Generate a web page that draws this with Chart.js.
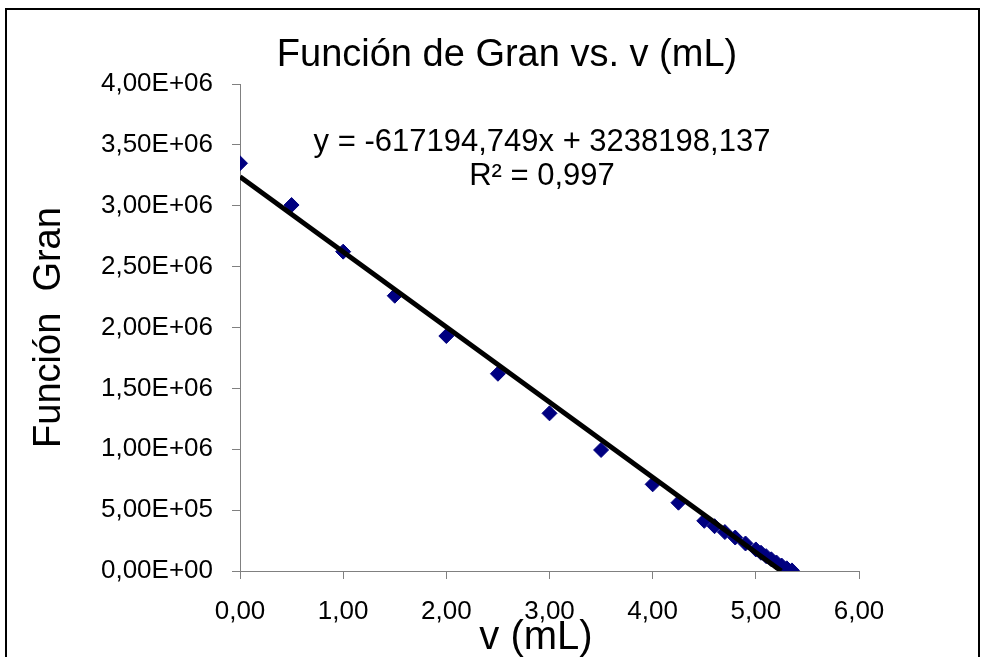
<!DOCTYPE html>
<html>
<head>
<meta charset="utf-8">
<script src="https://cdn.jsdelivr.net/npm/chart.js@4/dist/chart.umd.min.js"></script>
<style>
    html, body { margin: 0; padding: 0; background: #fff; }
    #wrap { position: relative; width: 984px; height: 657px; overflow: hidden; }
    #granChart { position: absolute; left: 0; top: 0; }
    #frame {
        position: absolute; left: 5px; top: 8px;
        width: 971px; height: 700px;
        border: 2px solid #000; pointer-events: none;
    }
</style>
</head>
<body>
<div id="wrap">
    <canvas id="granChart" width="984" height="657"></canvas>
    <div id="frame"></div>
</div>
<script>
    // Data
    const volumes = [0, 0.5, 1, 1.5, 2, 2.5, 3, 3.5, 4, 4.25, 4.5, 4.6, 4.7, 4.8, 4.9, 5.0,
                     5.05, 5.1, 5.15, 5.2, 5.25, 5.3, 5.35];
    const granValues = [3349000, 3006000, 2623000, 2261000, 1930000, 1620000, 1295000, 994000,
                        712000, 561000, 412000, 368000, 320000, 275000, 226000, 177000,
                        150000, 122000, 96000, 70000, 45000, 22000, 5000];

    // Trendline shown on the chart
    const slope = -617194.749;
    const intercept = 3238198.137;
    const rSquared = 0.997;

    const xTitle = 'v (mL)';
    const FONT = '"Liberation Sans", Arial, sans-serif';
    const AXIS_GRAY = '#808080';

    // Number formatting (Spanish decimal comma)
    function fmtSci(v) {
        const [m, e] = Number(v).toExponential(2).split('e');
        const n = parseInt(e, 10);
        return m.replace('.', ',') + 'E' + (n < 0 ? '-' : '+') + String(Math.abs(n)).padStart(2, '0');
    }
    function fmtDec(v, digits) {
        return Number(v).toFixed(digits).replace('.', ',');
    }

    const points = volumes.map((v, i) => ({ x: v, y: granValues[i] }));
    const trend = [
        { x: 0, y: intercept },
        { x: -intercept / slope, y: 0 }
    ];

    const eqText = 'y = ' + fmtDec(slope, 3) + 'x + ' + fmtDec(intercept, 3);
    const r2Text = 'R\u00B2 = ' + fmtDec(rSquared, 3);

    // Equation label and x axis title (Excel puts it a bit left of centre)
    const fitLabel = {
        id: 'fitLabel',
        afterDatasetsDraw(chart) {
            const { ctx, chartArea } = chart;
            ctx.save();
            ctx.fillStyle = '#000';
            ctx.textAlign = 'center';
            ctx.textBaseline = 'middle';
            ctx.font = '31px ' + FONT;
            const cx = chartArea.left + 302;
            ctx.fillText(eqText, cx, chartArea.top + 58);
            ctx.fillText(r2Text, cx, chartArea.top + 92);
            ctx.font = '40px ' + FONT;
            ctx.fillText(xTitle, chartArea.left + 296, chartArea.bottom + 67);
            ctx.restore();
        }
    };

    Chart.defaults.font.family = FONT;
    Chart.defaults.color = '#000';

    new Chart(document.getElementById('granChart'), {
        type: 'scatter',
        data: {
            datasets: [
                {
                    label: 'Lineal',
                    data: trend,
                    showLine: true,
                    borderColor: '#000',
                    borderWidth: 5,
                    pointRadius: 0,
                    order: 0
                },
                {
                    label: 'Función Gran',
                    data: points,
                    pointStyle: 'rectRot',
                    pointRadius: 7.5,
                    backgroundColor: '#000080',
                    borderColor: '#000080',
                    borderWidth: 1,
                    order: 1
                }
            ]
        },
        options: {
            responsive: false,
            animation: false,
            devicePixelRatio: 1,
            layout: {
                padding: { left: 30, right: 0, top: 0, bottom: 0 }
            },
            scales: {
                x: {
                    type: 'linear',
                    min: 0,
                    max: 6,
                    afterFit(scale) { scale.height = 86; },
                    ticks: {
                        stepSize: 1,
                        padding: 17,
                        maxRotation: 0,
                        color: '#000',
                        font: { size: 26 },
                        callback: v => fmtDec(v, 2)
                    },
                    grid: {
                        drawOnChartArea: false,
                        drawTicks: true,
                        tickLength: 8,
                        color: AXIS_GRAY
                    },
                    border: { color: AXIS_GRAY, width: 1 }
                },
                y: {
                    min: 0,
                    max: 4000000,
                    afterFit(scale) { scale.width = 210; },
                    ticks: {
                        stepSize: 500000,
                        padding: 19,
                        color: '#000',
                        font: { size: 26 },
                        callback: v => fmtSci(v)
                    },
                    grid: {
                        drawOnChartArea: false,
                        drawTicks: true,
                        tickLength: 8,
                        color: AXIS_GRAY
                    },
                    border: { color: AXIS_GRAY, width: 1 },
                    title: {
                        display: true,
                        text: 'Función  Gran',
                        color: '#000',
                        font: { size: 38 },
                        padding: { top: -3, bottom: 0 }
                    }
                },
                // empty right-hand box: leaves the white space right of the plot
                yRight: {
                    position: 'right',
                    display: true,
                    afterFit(scale) { scale.width = 125; },
                    grid: { display: false },
                    border: { display: false },
                    ticks: { display: false }
                }
            },
            plugins: {
                legend: { display: false },
                tooltip: { enabled: false },
                title: {
                    display: true,
                    text: 'Función de Gran vs. v (mL)',
                    color: '#000',
                    font: { size: 38, weight: 'normal' },
                    padding: { top: 33, bottom: 5.4 }
                }
            }
        },
        plugins: [fitLabel]
    });
</script>
</body>
</html>
